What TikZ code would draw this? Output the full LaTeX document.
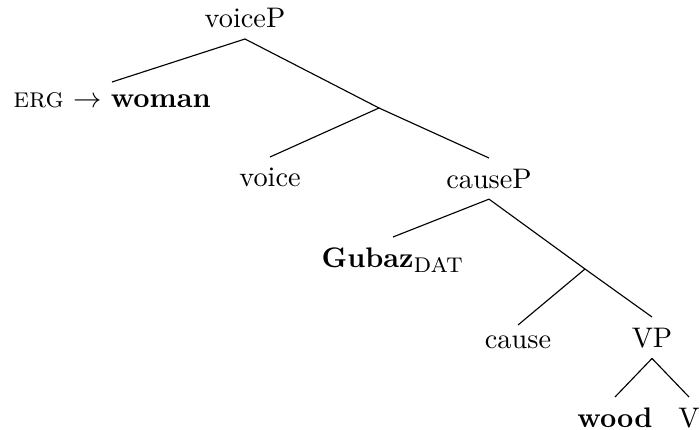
\documentclass[tikz,border=0pt]{standalone}
\begin{document}
\begin{tikzpicture}[x=0.3534pt,y=-0.3534pt,
  lab/.style={inner sep=3.6pt,font=\normalsize},
  edge/.style={draw=black,line width=0.4pt}]
\useasboundingbox (0,0) rectangle (700,430);
% nodes
\node[lab,anchor=south] (voiceP) at (245,39) {voiceP};
\node[lab,anchor=north] (woman) at (112,82) {\textsc{erg} $\rightarrow$ \textbf{woman}};
\coordinate (j1) at (379,108);
\node[lab,anchor=north] (voice) at (270,157) {voice};
\node[lab,anchor=north] (causeP) at (489,158) {causeP};
\node[lab,anchor=north] (gubaz) at (393,237) {\textbf{Gubaz}$_{\textsc{dat}}$};
\coordinate (j2) at (585,269);
\node[lab,anchor=north] (cause) at (518,325) {cause};
\node[lab,anchor=north] (VP) at (652,317) {VP};
\node[lab,anchor=north] (wood) at (615,397) {\textbf{wood}};
\node[lab,anchor=north] (V) at (689,397) {V};
% edges
\draw[edge] (voiceP.south) -- (woman.north);
\draw[edge] (voiceP.south) -- (j1);
\draw[edge] (j1) -- (voice.north);
\draw[edge] (j1) -- (causeP.north);
\draw[edge] (causeP.south) -- (gubaz.north);
\draw[edge] (causeP.south) -- (j2);
\draw[edge] (j2) -- (cause.north);
\draw[edge] (j2) -- (VP.north);
\draw[edge] (VP.south) -- (wood.north);
\draw[edge] (VP.south) -- (V.north);
\end{tikzpicture}
\end{document}
